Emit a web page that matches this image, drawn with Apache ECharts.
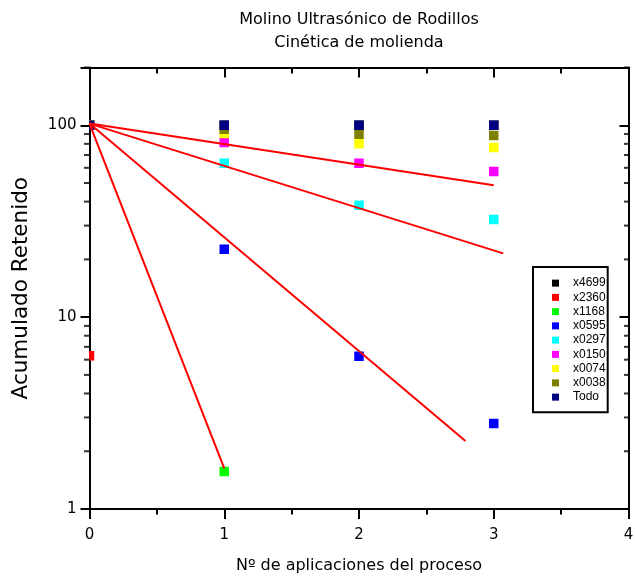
<!DOCTYPE html>
<html><head><meta charset="utf-8">
<script src="https://cdn.jsdelivr.net/npm/echarts@6/dist/echarts.min.js"></script>
<style>html,body{margin:0;padding:0;background:#fff}#c{width:635px;height:576px}</style>
</head><body><div id="c"></div>
<script>
// ---- data ----
const seriesNames = ['x4699','x2360','x1168','x0595','x0297','x0150','x0074','x0038','Todo'];
const seriesColors = ['#000000','#ff0000','#00ff00','#0000ff','#00ffff','#ff00ff','#ffff00','#808000','#000080'];
const x4699 = [[0,100],[1,100],[2,100],[3,100]];
const x2360 = [[0,6.3]];
const x1168 = [[0,100],[1,1.57]];
const x0595 = [[0,100],[1,22.6],[2,6.26],[3,2.79]];
const x0297 = [[0,100],[1,63.4],[2,38.3],[3,32.3]];
const x0150 = [[0,100],[1,81.3],[2,63.4],[3,57.4]];
const x0074 = [[0,100],[1,90.6],[2,80.1],[3,76.5]];
const x0038 = [[0,100],[1,95.3],[2,89.8],[3,88.4]];
const todo  = [[0,100],[1,100],[2,100],[3,100]];
const fit1 = [[0,102],[3,48.7]];
const fit2 = [[0,102],[3.07,21.5]];
const fit3 = [[0,102],[2.79,2.26]];
const fit4 = [[0,102],[1,1.63]];
const xTickValues = [0,1,2,3,4];
const yMajorTicks = [1,10,100];
const yMinorTicks = [2,3,4,5,6,7,8,9,20,30,40,50,60,70,80,90,200];
const titleLines = ['Molino Ultrasónico de Rodillos','Cinética de molienda'];
const xName = 'Nº de aplicaciones del proceso';
const yName = 'Acumulado Retenido';

const dataArrays = [x4699,x2360,x1168,x0595,x0297,x0150,x0074,x0038,todo];
const fits = [fit1,fit2,fit3,fit4];

const FONT = 'DejaVu Sans';
const axisCol = '#000';
const lw = 2;

const chart = echarts.init(document.getElementById('c'), null, {renderer:'canvas'});

const dataSeries = seriesNames.map((n,i)=>({
  type:'custom', name:n, data:dataArrays[i], clip:true, z:3,
  itemStyle:{color:seriesColors[i]},
  renderItem:(params, api)=>{
    const p = api.coord([api.value(0), api.value(1)]);
    const s = 9.5;
    return {type:'rect', shape:{x:p[0]-s/2, y:p[1]-s/2, width:s, height:s}, style:{fill:seriesColors[i]}};
  }
}));

const fitSeries = fits.map((f,i)=>({
  type:'line', name:'fit'+i, data:f, symbol:'none', showSymbol:false, silent:true, z:4,
  lineStyle:{color:'#ff0000', width:2}
}));

const minorTickSeries = [
  {type:'scatter', name:'minL', data:yMinorTicks.map(v=>[xTickValues[0],v]), symbol:'rect',
   symbolSize:[5.5,2], symbolOffset:[-2.75,0], itemStyle:{color:axisCol}, clip:false, silent:true, z:5},
  {type:'scatter', name:'minR', data:yMinorTicks.map(v=>[xTickValues[xTickValues.length-1],v]), symbol:'rect',
   symbolSize:[4.5,2], symbolOffset:[-2.25,0], itemStyle:{color:axisCol}, clip:false, silent:true, z:5}
];

const isMajor = v => yMajorTicks.some(t => Math.abs(Math.log10(v) - Math.log10(t)) < 1e-6);

chart.setOption({
  animation:false,
  backgroundColor:'#fff',
  title:[
    {text:titleLines[0], left:359, top:12, textAlign:'center', padding:0,
     textStyle:{fontFamily:FONT, fontSize:16, fontWeight:'normal', color:'#000'}},
    {text:titleLines[1], left:359, top:35, textAlign:'center', padding:0,
     textStyle:{fontFamily:FONT, fontSize:16, fontWeight:'normal', color:'#000'}}
  ],
  legend:{
    orient:'vertical', left:533, top:267, padding:[9,2,8,19],
    itemWidth:7, itemHeight:7, itemGap:0, selectedMode:false,
    borderColor:'#000', borderWidth:2, backgroundColor:'#fff',
    data:seriesNames.map(n=>({name:n, icon:'rect'})),
    textStyle:{fontFamily:'Liberation Sans', fontSize:12, lineHeight:14.25, color:'#000', padding:[0,0,0,9]}
  },
  grid:{left:89.5, right:6.5, top:67.5, bottom:67, containLabel:false, outerBoundsMode:'none'},
  xAxis:[
    {type:'value', position:'bottom', min:xTickValues[0], max:xTickValues[xTickValues.length-1], interval:1,
     axisLine:{onZero:false, lineStyle:{color:axisCol, width:lw}},
     axisTick:{inside:false, length:10, lineStyle:{color:axisCol, width:lw}},
     minorTick:{show:true, splitNumber:2, length:5.5, lineStyle:{color:axisCol, width:lw}},
     splitLine:{show:false},
     axisLabel:{margin:18.5, fontFamily:FONT, fontSize:15, color:'#000'},
     name:xName, nameLocation:'middle', nameGap:49,
     nameTextStyle:{fontFamily:FONT, fontSize:16, color:'#000'}},
    {type:'value', position:'top', min:xTickValues[0], max:xTickValues[xTickValues.length-1], interval:1,
     axisLine:{onZero:false, lineStyle:{color:axisCol, width:lw}},
     axisTick:{inside:true, length:10, lineStyle:{color:axisCol, width:lw}},
     minorTick:{show:true, splitNumber:2, length:6, lineStyle:{color:axisCol, width:lw}},
     splitLine:{show:false}, axisLabel:{show:false}}
  ],
  yAxis:[
    {type:'log', logBase:10, position:'left', min:1, max:200,
     axisLine:{onZero:false, lineStyle:{color:axisCol, width:lw}},
     axisTick:{inside:false, length:9, lineStyle:{color:axisCol, width:lw}},
     splitLine:{show:false},
     axisLabel:{margin:13, fontFamily:FONT, fontSize:15, color:'#000',
       formatter:v=> isMajor(v) ? String(Math.round(v)) : ''},
     name:yName, nameLocation:'middle', nameGap:57,
     nameTextStyle:{fontFamily:FONT, fontSize:21.5, color:'#000'}},
    {type:'log', logBase:10, position:'right', min:1, max:200,
     axisLine:{onZero:false, lineStyle:{color:axisCol, width:lw}},
     axisTick:{inside:true, length:9, lineStyle:{color:axisCol, width:lw}},
     splitLine:{show:false}, axisLabel:{show:false}}
  ],
  series:[...dataSeries, ...fitSeries, ...minorTickSeries]
});
</script></body></html>
